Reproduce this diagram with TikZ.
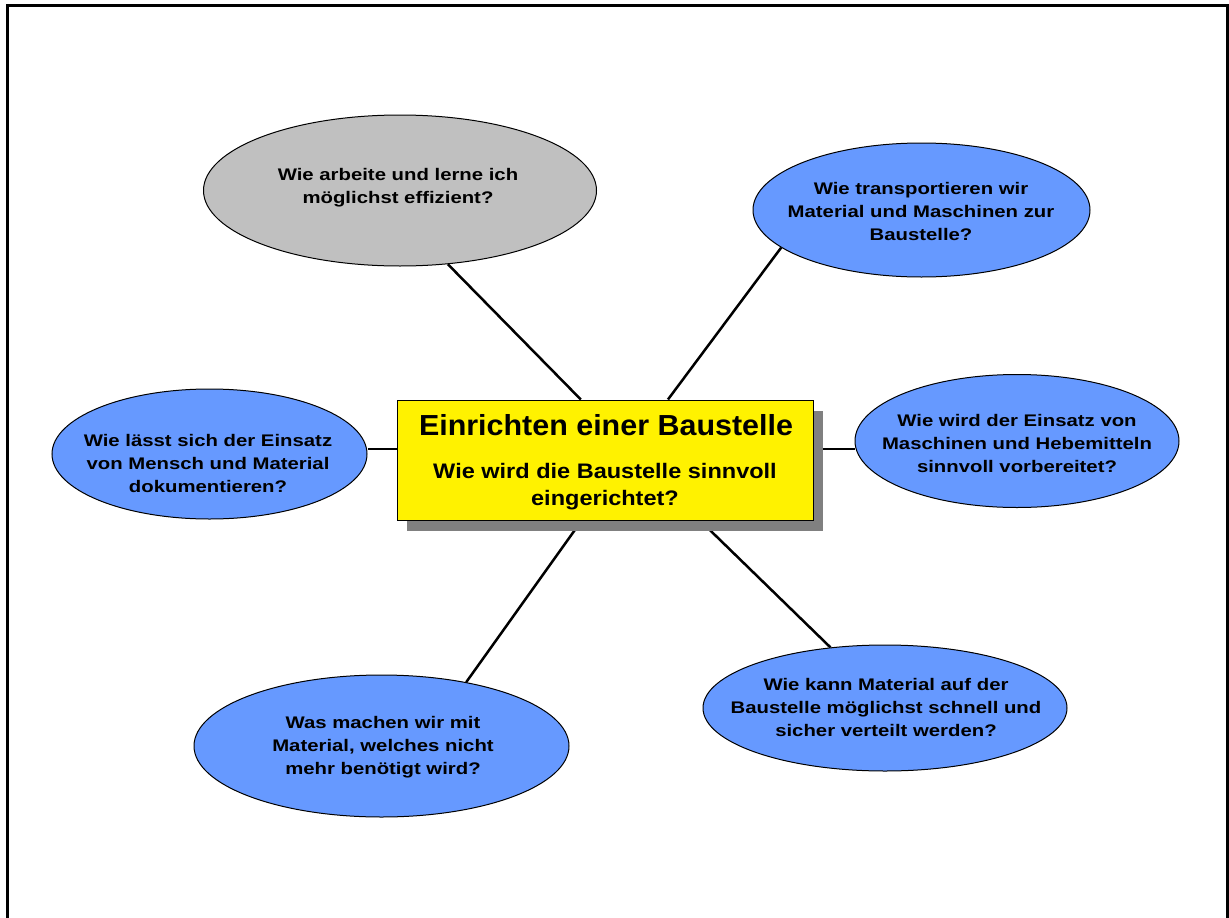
\documentclass[tikz,border=0pt]{standalone}
\usepackage{fontspec}
\setmainfont{Liberation Sans}
\newfontfamily\ellf[FakeStretch=1.21]{Liberation Sans}
\newfontfamily\subf[FakeStretch=1.12]{Liberation Sans}
\newfontfamily\titf[FakeStretch=1.05]{Liberation Sans}
\usetikzlibrary{shapes.geometric,shadows,calc,backgrounds}
\definecolor{ellblue}{RGB}{102,153,255}
\definecolor{ellgray}{RGB}{192,192,192}
\begin{document}
\begin{tikzpicture}[x=1pt,y=-1pt,
  bubble/.style={ellipse, draw=black, line width=1pt, inner sep=0pt, fill=ellblue},
  etext/.style={align=center, font=\ellf\bfseries\fontsize{16.8}{23}\selectfont, inner sep=0pt},
  conn/.style={line width=2.5pt, black}]
\useasboundingbox (0,0) rectangle (1229,918);
\clip (0,0) rectangle (1229,918);
\draw[line width=3pt] (7,5) rectangle (1227,940);

% central box
\node[draw=black, fill=yellow, minimum width=416pt, minimum height=120pt, inner sep=0pt, line width=1pt,
  drop shadow={shadow xshift=10pt, shadow yshift=-11pt, fill=black!50, opacity=1}] (box) at (605,460) {};
\node[anchor=base, inner sep=0pt, font=\titf\bfseries\fontsize{29}{33}\selectfont] (title) at (606,435) {Einrichten einer Baustelle};
\node[align=center, inner sep=0pt, font=\subf\bfseries\fontsize{21}{27}\selectfont] (sub) at (605,487) {Wie wird die Baustelle sinnvoll\\eingerichtet?};

% ellipses
\node[bubble, fill=ellgray, minimum width=393pt, minimum height=151pt] (g) at (400,190.5) {};
\node[etext] (gt) at (398,188) {Wie arbeite und lerne ich\\möglichst effizient?};

\node[bubble, minimum width=337pt, minimum height=134pt] (tr) at (921.5,210) {};
\node[etext] (trt) at (921,211) {Wie transportieren wir\\Material und Maschinen zur\\Baustelle?};

\node[bubble, minimum width=324pt, minimum height=133pt] (r) at (1017,441) {};
\node[etext] (rt) at (1017,443) {Wie wird der Einsatz von\\Maschinen und Hebemitteln\\sinnvoll vorbereitet?};

\node[bubble, minimum width=315pt, minimum height=130pt] (l) at (209.5,454) {};
\node[etext] (lt) at (208,463) {Wie lässt sich der Einsatz\\von Mensch und Material\\dokumentieren?};

\node[bubble, minimum width=375pt, minimum height=142pt] (bl) at (381.5,746) {};
\node[etext] (blt) at (383,747) {Was machen wir mit\\Material, welches nicht\\mehr benötigt wird?};

\node[bubble, minimum width=364pt, minimum height=126pt] (br) at (885,708) {};
\node[etext] (brt) at (886,707) {Wie kann Material auf der\\Baustelle möglichst schnell und\\sicher verteilt werden?};

% connectors
\begin{pgfonlayer}{background}
\coordinate (lm) at ($(box.north west)!0.408!(box.south west)$);
\coordinate (rm) at ($(box.north east)!0.408!(box.south east)$);
\draw[conn] (g.-57.6) -- ($(box.north west)!0.442!(box.north east)$);
\draw[conn] (tr.-165.2) -- ($(box.north west)!0.651!(box.north east)$);
\draw[conn] (l.east |- lm) -- (lm);
\draw[conn] (rm) -- (r.west |- rm);
\draw[conn] (bl.37.5) -- ($(box.south west)!0.444!(box.south east)$);
\draw[conn] (br.132.6) -- ($(box.south west)!0.728!(box.south east)$);
\end{pgfonlayer}
\end{tikzpicture}
\end{document}
